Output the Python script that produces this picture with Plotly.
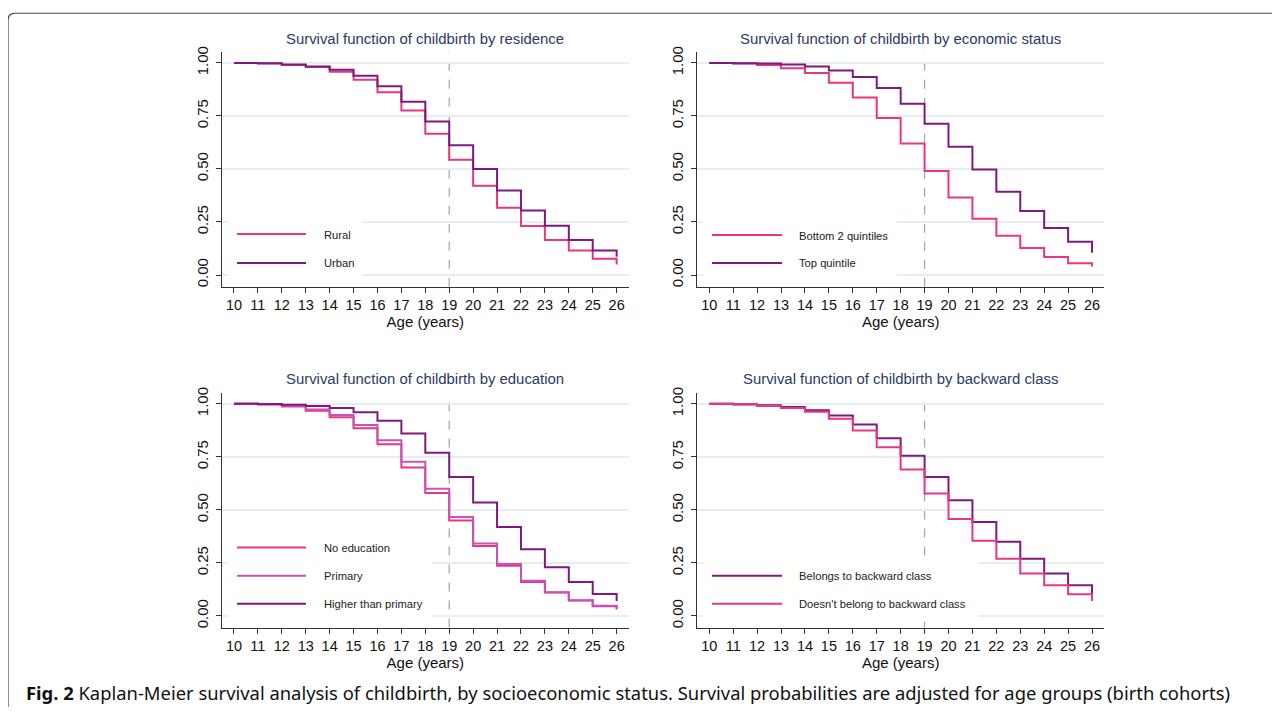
import plotly.graph_objects as go

# the page body adds a margin around the figure and the capture is slightly
# compressed vertically; compensate so screen pixels match the reference
OFF = 8
YC, YS = 13.75, 0.991
W, H = 1280 - 2 * OFF, 715 - 2 * OFF

ages = list(range(10, 27))

# Panel 1: residence
rural = [1.0, 0.997, 0.99, 0.981, 0.958, 0.921, 0.862, 0.776, 0.666, 0.543, 0.421, 0.317, 0.231, 0.165, 0.115, 0.077, 0.05]
urban = [1.0, 0.998, 0.993, 0.983, 0.968, 0.94, 0.89, 0.817, 0.724, 0.612, 0.50, 0.398, 0.304, 0.232, 0.165, 0.116, 0.086]

# Panel 2: economic status
bottom2 = [1.0, 0.997, 0.99, 0.975, 0.952, 0.906, 0.837, 0.74, 0.62, 0.49, 0.365, 0.265, 0.185, 0.127, 0.085, 0.055, 0.04]
topq = [1.0, 0.999, 0.997, 0.992, 0.983, 0.964, 0.933, 0.882, 0.808, 0.713, 0.605, 0.497, 0.392, 0.302, 0.222, 0.157, 0.105]

# Panel 3: education
noedu = [1.0, 0.997, 0.987, 0.967, 0.937, 0.885, 0.81, 0.70, 0.58, 0.45, 0.33, 0.237, 0.16, 0.11, 0.073, 0.046, 0.03]
primary = [1.0, 0.998, 0.99, 0.973, 0.947, 0.90, 0.828, 0.727, 0.60, 0.467, 0.342, 0.245, 0.166, 0.112, 0.074, 0.048, 0.035]
higher = [1.0, 0.999, 0.996, 0.99, 0.98, 0.96, 0.92, 0.86, 0.77, 0.655, 0.535, 0.42, 0.315, 0.23, 0.16, 0.103, 0.07]

# Panel 4: backward class
belongs = [1.0, 0.998, 0.993, 0.985, 0.97, 0.945, 0.903, 0.838, 0.755, 0.655, 0.545, 0.443, 0.35, 0.27, 0.20, 0.145, 0.105]
notbelong = [1.0, 0.997, 0.99, 0.98, 0.963, 0.93, 0.875, 0.795, 0.69, 0.577, 0.457, 0.355, 0.27, 0.20, 0.145, 0.102, 0.07]

titles = ["Survival function of childbirth by residence",
          "Survival function of childbirth by economic status",
          "Survival function of childbirth by education",
          "Survival function of childbirth by backward class"]
ytick_vals = [0, 0.25, 0.5, 0.75, 1.0]
ytick_text = ["0.00", "0.25", "0.50", "0.75", "1.00"]
xlabel = "Age (years)"
caption = ("<b>Fig. 2</b> Kaplan-Meier survival analysis of childbirth, by socioeconomic status. "
           "Survival probabilities are adjusted for age groups (birth cohorts)")

PINK = "#e8367f"
PURPLE = "#7c1a80"
ORCHID = "#c951bb"
NAVY = "#2b3a67"
GRID = "#e6eef1"

panels = [
    dict(series=[("Rural", rural, PINK), ("Urban", urban, PURPLE)]),
    dict(series=[("Bottom 2 quintiles", bottom2, PINK), ("Top quintile", topq, PURPLE)]),
    dict(series=[("No education", noedu, PINK), ("Primary", primary, ORCHID),
                 ("Higher than primary", higher, PURPLE)]),
    dict(series=[("Belongs to backward class", belongs, PURPLE),
                 ("Doesn't belong to backward class", notbelong, PINK)]),
]

def px(xp):
    return (xp - OFF) / W

def py(yp):
    f = (yp - YC) / YS
    return 1 - f / H

# layout geometry in (screen) pixels
xdom_px = [(222, 628.6), (697.3, 1104), (222, 628.6), (697.3, 1104)]
ydom_px = [(52.1, 286.7), (52.1, 286.7), (393.4, 628.0), (393.4, 628.0)]
title_y = [38.5, 38.5, 379.5, 379.5]
legend_box = [(228, 218, 362, 281), (703, 218, 897, 281), (228, 530, 432, 622), (703, 556, 978, 622)]
legend_rows = [[234, 263], [235, 263], [547.7, 576, 604], [576, 604]]
legend_x = [(237, 306, 321.7), (712, 782, 797), (237, 306, 321.7), (712, 782, 797)]

FONT = "Liberation Sans, Arial"

fig = go.Figure()
shapes = []
annotations = []

for i, p in enumerate(panels):
    n = i + 1
    xa = "x" if n == 1 else f"x{n}"
    ya = "y" if n == 1 else f"y{n}"
    for name, vals, col in p["series"]:
        fig.add_trace(go.Scatter(x=ages, y=vals, mode="lines", line=dict(color=col, width=2, shape="hv"),
                                 name=name, xaxis=xa, yaxis=ya, showlegend=False, hoverinfo="x+y+name"))
    xk = "xaxis" if n == 1 else f"xaxis{n}"
    yk = "yaxis" if n == 1 else f"yaxis{n}"
    x0, x1 = xdom_px[i]
    y0, y1 = ydom_px[i]
    fig.layout[xk] = dict(domain=[px(x0), px(x1)], range=[9.5, 26.5], anchor=ya,
                          tickvals=ages, ticktext=[str(a) for a in ages],
                          showgrid=False, zeroline=False, showline=True, linecolor="#333", linewidth=1.2,
                          ticks="outside", ticklen=5, tickcolor="#333", tickwidth=1,
                          tickfont=dict(family=FONT, size=14.5, color="#111"),
                          title=dict(text=xlabel, font=dict(family=FONT, size=15, color="#111"),
                                     standoff=2),
                          fixedrange=True)
    fig.layout[yk] = dict(domain=[py(y1), py(y0)], range=[-0.055, 1.05], anchor=xa,
                          tickvals=ytick_vals, ticktext=ytick_text, tickangle=-90,
                          showgrid=True, gridcolor=GRID, gridwidth=1.5, zeroline=False,
                          showline=True, linecolor="#333", linewidth=1.2,
                          ticks="outside", ticklen=5, tickcolor="#333", tickwidth=1,
                          ticklabelstandoff=2,
                          tickfont=dict(family=FONT, size=15, color="#111"),
                          fixedrange=True)
    # reference line at age 19
    shapes.append(dict(type="line", xref=xa, yref=f"{ya} domain", x0=19, x1=19, y0=0, y1=1,
                       line=dict(color="#a3a3a3", width=1.2, dash="dash"), layer="below"))
    # legend background
    bx0, by0, bx1, by1 = legend_box[i]
    shapes.append(dict(type="rect", xref="paper", yref="paper", x0=px(bx0), x1=px(bx1), y0=py(by1), y1=py(by0),
                       fillcolor="white", line=dict(width=0), layer="above"))
    lx0, lx1, tx = legend_x[i]
    for (name, vals, col), ry in zip(p["series"], legend_rows[i]):
        shapes.append(dict(type="line", xref="paper", yref="paper", x0=px(lx0), x1=px(lx1), y0=py(ry), y1=py(ry),
                           line=dict(color=col, width=2), layer="above"))
        annotations.append(dict(text=name, xref="paper", yref="paper", x=px(tx), y=py(ry + 0.5), xanchor="left",
                                yanchor="middle", showarrow=False,
                                font=dict(family=FONT, size=11.2, color="#222")))
    annotations.append(dict(text=titles[i], xref="paper", yref="paper", x=px((x0 + x1) / 2), y=py(title_y[i]),
                            xanchor="center", yanchor="middle", showarrow=False,
                            font=dict(family=FONT, size=14.9, color=NAVY)))

annotations.append(dict(text=caption, xref="paper", yref="paper", x=px(24), y=py(692.5), xanchor="left",
                        yanchor="middle", showarrow=False,
                        font=dict(family="Noto Sans, Open Sans", size=18.4, color="#111")))

# outer figure frame (rounded top-left corner); keep its top edge on the canvas
ftop = max(py(13), 1 - 0.7 / H)
frame = (f"M {px(1300)} {ftop} L {px(15)} {ftop} Q {px(8)} {ftop} {px(8)} {py(20)} L {px(8)} {py(730)}")
shapes.append(dict(type="path", xref="paper", yref="paper", path=frame, line=dict(color="#444", width=1.2)))

fig.update_layout(width=W, height=H, margin=dict(l=0, r=0, t=0, b=0),
                  paper_bgcolor="white", plot_bgcolor="white",
                  shapes=shapes, annotations=annotations, showlegend=False)

fig.write_html("out.html", config={"displayModeBar": False})
